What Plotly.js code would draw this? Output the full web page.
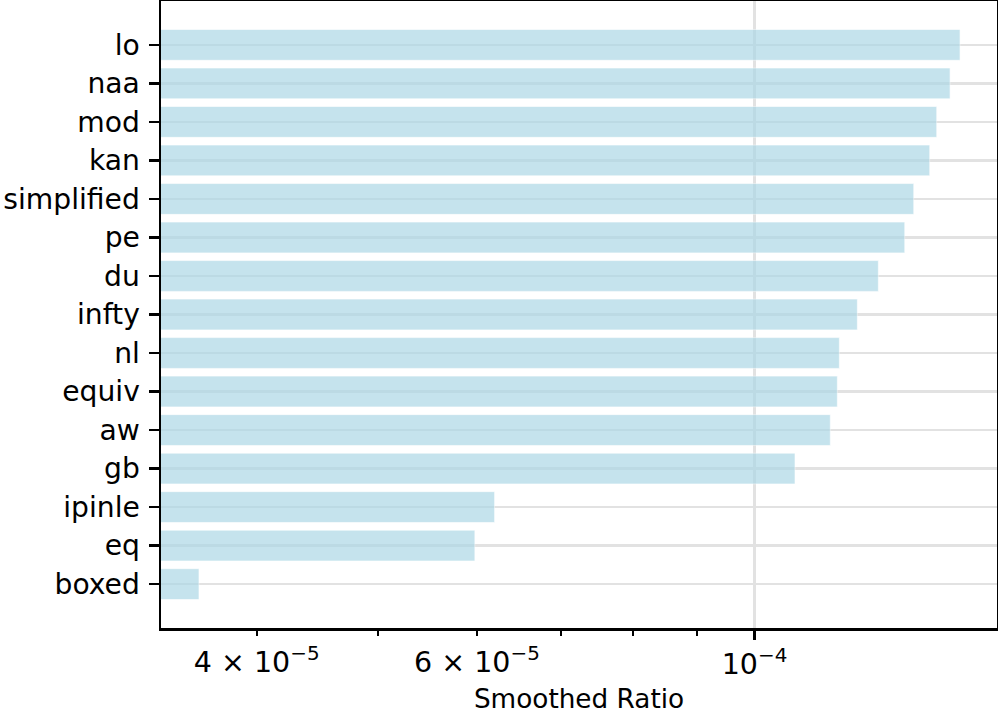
<!DOCTYPE html>
<html>
<head>
<meta charset="utf-8">
<script src="https://cdn.plot.ly/plotly-3.0.1.min.js"></script>
<style>html,body{margin:0;padding:0;background:#fff;}#chart{width:998px;height:714px;}</style>
</head>
<body>
<div id="chart"></div>
<script>
// Categories from bottom to top
const categories = ["boxed","eq","ipinle","gb","aw","equiv","nl","infty","du","pe","simplified","kan","mod","naa","lo"];
const smoothedRatio = [3.597e-5, 5.977e-5, 6.198e-5, 1.0774e-4, 1.1497e-4, 1.1647e-4, 1.1690e-4, 1.2084e-4, 1.2560e-4, 1.3186e-4, 1.3406e-4, 1.3806e-4, 1.3985e-4, 1.4332e-4, 1.4598e-4];
const majorTickVals = [1e-4];
const majorTickText = ["10<sup>−4</sup>"];
const labeledMinorVals = [4e-5, 6e-5];
const labeledMinorText = ["4 × 10<sup>−5</sup>", "6 × 10<sup>−5</sup>"];
const minorTickVals = [4e-5, 5e-5, 6e-5, 7e-5, 8e-5, 9e-5];

const FONT = "DejaVu Sans, sans-serif";
const FS = 28.2;
const xRange = [-4.47442, -3.80616];

const bars = {
  type: "bar",
  orientation: "h",
  y: categories,
  x: smoothedRatio,
  marker: {color: "rgb(173,216,230)", line: {color: "rgba(255,255,255,0.6)", width: 1}},
  opacity: 0.7,
  width: 0.8,
  hoverinfo: "x+y"
};

// invisible helper so the secondary (label-only) axis is drawn
const labelAxisHelper = {
  type: "scatter",
  mode: "markers",
  xaxis: "x2",
  yaxis: "y",
  x: labeledMinorVals,
  y: labeledMinorVals.map(() => categories[0]),
  marker: {opacity: 0, size: 1},
  hoverinfo: "skip",
  showlegend: false
};

const layout = {
  width: 998,
  height: 714,
  margin: {l: 161, r: 1, t: 1, b: 86},
  paper_bgcolor: "#fff",
  plot_bgcolor: "#fff",
  showlegend: false,
  bargap: 0.2,
  font: {family: FONT, size: FS, color: "#000"},
  xaxis: {
    type: "log",
    range: xRange,
    tickvals: majorTickVals,
    ticktext: majorTickText,
    ticks: "outside",
    ticklen: 9,
    tickwidth: 2.5,
    tickcolor: "#000",
    tickfont: {family: FONT, size: 28.5, color: "#000"},
    showgrid: true,
    gridcolor: "rgb(226,226,226)",
    gridwidth: 2.5,
    showline: true,
    linecolor: "#000",
    linewidth: 2.5,
    mirror: true,
    zeroline: false,
    minor: {tickvals: minorTickVals, ticks: "outside", ticklen: 5, tickwidth: 2, tickcolor: "#000", showgrid: false},
    title: {text: "Smoothed Ratio", font: {family: FONT, size: 26.3, color: "#000"}, standoff: 14}
  },
  xaxis2: {
    type: "log",
    range: xRange,
    overlaying: "x",
    anchor: "y",
    side: "bottom",
    tickvals: labeledMinorVals,
    ticktext: labeledMinorText,
    ticks: "outside",
    ticklen: 9,
    tickwidth: 0.1,
    tickcolor: "rgba(0,0,0,0)",
    tickfont: {family: FONT, size: 28.5, color: "#000"},
    showgrid: false,
    showline: false,
    zeroline: false
  },
  yaxis: {
    type: "category",
    range: [-1.14, 15.14],
    ticks: "outside",
    ticklen: 10,
    tickwidth: 2.5,
    tickcolor: "#000",
    tickfont: {family: FONT, size: FS, color: "#000"},
    ticklabelstandoff: 3,
    showgrid: true,
    gridcolor: "rgb(226,226,226)",
    gridwidth: 2.5,
    showline: true,
    linecolor: "#000",
    linewidth: 2.5,
    mirror: true,
    zeroline: false
  }
};

Plotly.newPlot("chart", [bars, labelAxisHelper], layout, {displayModeBar: false, staticPlot: true});
</script>
</body>
</html>
